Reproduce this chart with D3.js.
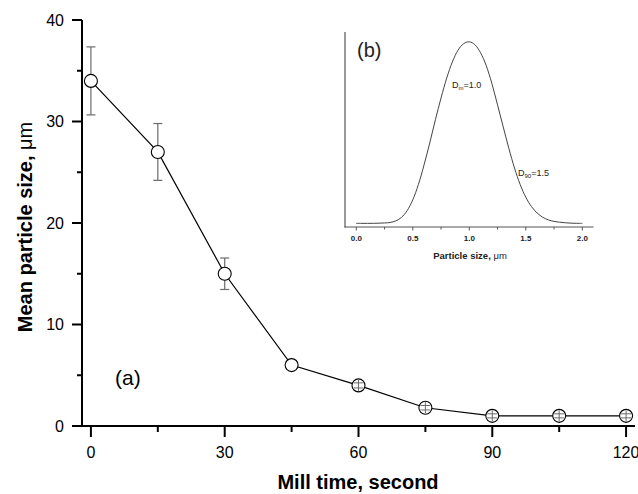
<!DOCTYPE html>
<html><head><meta charset="utf-8">
<script src="https://cdn.jsdelivr.net/npm/d3@7"></script>
<style>
html,body{margin:0;padding:0;background:#fff;}
svg{display:block;font-family:"Liberation Sans",Arial,sans-serif;}
</style></head>
<body>
<svg id="chart" width="638" height="494"></svg>
<script>
// Main chart data
const millTime = [0, 15, 30, 45, 60, 75, 90, 105, 120];
const meanSize = [34.0, 27.0, 15.0, 6.0, 4.0, 1.8, 1.0, 1.0, 1.0];
const sizeErr  = [3.35, 2.8, 1.55, 0.2, 0.25, 0.22, 0.2, 0.2, 0.2];
const xTicks = [0, 30, 60, 90, 120];
const xMinorTicks = [15, 45, 75, 105];
const yTicks = [0, 10, 20, 30, 40];
const yMinorTicks = [5, 15, 25, 35];

// Inset data (particle size distribution)
const psdSize = [0,0.05,0.1,0.15,0.2,0.25,0.3,0.35,0.4,0.45,0.5,0.55,0.6,0.65,0.7,0.75,0.8,0.85,0.9,0.95,1.0,
                 1.05,1.1,1.15,1.2,1.25,1.3,1.35,1.4,1.45,1.5,1.55,1.6,1.65,1.7,1.75,1.8,1.85,1.9,1.95,2.0];
const psdFreq = [0,0,0,0,0.001,0.002,0.004,0.012,0.03,0.066,0.125,0.21,0.32,0.44,0.57,0.69,0.80,0.89,0.955,0.99,1.0,
                 0.985,0.94,0.87,0.77,0.65,0.53,0.41,0.30,0.21,0.14,0.09,0.055,0.032,0.018,0.01,0.006,0.003,0.001,0,0];
const insetTicks = [0.0, 0.5, 1.0, 1.5, 2.0];
const insetMinorTicks = [0.25, 0.75, 1.25, 1.75];

const svg = d3.select("#chart");

// ---------- main chart ----------
const x = d3.scaleLinear().domain([-2, 122]).range([82, 635]);
const y = d3.scaleLinear().domain([0, 40]).range([426, 20]);

const axisColor = "#000";

// x axis
const gx = svg.append("g").attr("transform", "translate(0,426)");
gx.append("line").attr("x1", 72).attr("x2", x.range()[1]).attr("stroke", axisColor).attr("stroke-width", 2);
gx.selectAll(".maj").data(xTicks).join("line")
  .attr("x1", d => x(d)).attr("x2", d => x(d)).attr("y1", 0).attr("y2", 11)
  .attr("stroke", axisColor).attr("stroke-width", 2);
gx.selectAll(".min").data(xMinorTicks).join("line").attr("class","min")
  .attr("x1", d => x(d)).attr("x2", d => x(d)).attr("y1", 0).attr("y2", 6)
  .attr("stroke", axisColor).attr("stroke-width", 2);
gx.selectAll("text").data(xTicks).join("text")
  .attr("x", d => x(d)).attr("y", 32).attr("text-anchor", "middle")
  .attr("font-size", 16).text(d => d);

// y axis
const gy = svg.append("g").attr("transform", "translate(82,0)");
gy.append("line").attr("y1", y(40)).attr("y2", 427).attr("stroke", axisColor).attr("stroke-width", 2);
gy.selectAll(".maj").data(yTicks).join("line")
  .attr("y1", d => y(d)).attr("y2", d => y(d)).attr("x1", -10).attr("x2", 0)
  .attr("stroke", axisColor).attr("stroke-width", 2);
gy.selectAll(".min").data(yMinorTicks).join("line").attr("class","min")
  .attr("y1", d => y(d)).attr("y2", d => y(d)).attr("x1", -5).attr("x2", 0)
  .attr("stroke", axisColor).attr("stroke-width", 2);
gy.selectAll("text").data(yTicks).join("text")
  .attr("x", -18).attr("y", d => y(d)).attr("dy", "0.36em").attr("text-anchor", "end")
  .attr("font-size", 16).text(d => d);

// titles
svg.append("text").attr("x", 358).attr("y", 489).attr("text-anchor", "middle")
  .attr("font-size", 20).attr("font-weight", "bold").text("Mill time, second");
const yt = svg.append("text").attr("transform", "translate(32,227) rotate(-90)").attr("text-anchor", "middle")
  .attr("font-size", 20).attr("font-weight", "bold");
yt.append("tspan").text("Mean particle size, ");
yt.append("tspan").attr("font-weight", "normal").text("\u03bcm");

svg.append("text").attr("x", 115).attr("y", 385).attr("font-size", 21).text("(a)");

// data
const pts = millTime.map((t, i) => ({t, v: meanSize[i], e: sizeErr[i]}));
const R = 6.5;
const errColor = "#6b6b6b";
const capW = 4.5;

const big = pts.filter(d => y(d.v - d.e) - y(d.v) > R);
const small = pts.filter(d => y(d.v - d.e) - y(d.v) <= R);

// error bars for points with large errors (behind circles)
const gErrB = svg.append("g");
big.forEach(d => {
  const cx = x(d.t);
  gErrB.append("line").attr("x1", cx).attr("x2", cx).attr("y1", y(d.v + d.e)).attr("y2", y(d.v - d.e))
    .attr("stroke", errColor).attr("stroke-width", 1.2);
  [d.v + d.e, d.v - d.e].forEach(vv => gErrB.append("line")
    .attr("x1", cx - capW).attr("x2", cx + capW).attr("y1", y(vv)).attr("y2", y(vv))
    .attr("stroke", errColor).attr("stroke-width", 1.2));
});

svg.append("path").datum(pts)
  .attr("d", d3.line().x(d => x(d.t)).y(d => y(d.v)))
  .attr("fill", "none").attr("stroke", "#000").attr("stroke-width", 1.2);

svg.selectAll("circle.pt").data(pts).join("circle").attr("class", "pt")
  .attr("cx", d => x(d.t)).attr("cy", d => y(d.v)).attr("r", R)
  .attr("fill", "#fff").attr("stroke", "#000").attr("stroke-width", 1.1);

// small error bars drawn inside the circles (on top)
const gErrS = svg.append("g");
small.filter(d => d.t >= 60).forEach(d => {
  const cx = x(d.t);
  gErrS.append("line").attr("x1", cx).attr("x2", cx).attr("y1", y(d.v) - R + 1).attr("y2", y(d.v) + R - 1)
    .attr("stroke", errColor).attr("stroke-width", 1);
  [d.v + d.e, d.v - d.e].forEach(vv => gErrS.append("line")
    .attr("x1", cx - 5).attr("x2", cx + 5).attr("y1", y(vv)).attr("y2", y(vv))
    .attr("stroke", errColor).attr("stroke-width", 1));
});

// ---------- inset ----------
const ix = d3.scaleLinear().domain([-0.1, 2.1]).range([345, 593.6]);
const iy = d3.scaleLinear().domain([-0.02, 1.05]).range([227, 32]);
const insetColor = "#555";

const gi = svg.append("g");
gi.append("line").attr("x1", 345).attr("x2", 345).attr("y1", 32).attr("y2", 227.5)
  .attr("stroke", insetColor).attr("stroke-width", 1.2);
gi.append("line").attr("x1", 344.5).attr("x2", 593.6).attr("y1", 227).attr("y2", 227)
  .attr("stroke", insetColor).attr("stroke-width", 1.2);
gi.selectAll(".imaj").data(insetTicks).join("line").attr("class","imaj")
  .attr("x1", d => ix(d)).attr("x2", d => ix(d)).attr("y1", 227).attr("y2", 230.5)
  .attr("stroke", insetColor).attr("stroke-width", 1);
gi.selectAll(".imin").data(insetMinorTicks).join("line").attr("class","imin")
  .attr("x1", d => ix(d)).attr("x2", d => ix(d)).attr("y1", 227).attr("y2", 229.5)
  .attr("stroke", insetColor).attr("stroke-width", 1);
gi.selectAll("text.itk").data(insetTicks).join("text").attr("class","itk")
  .attr("x", d => ix(d)).attr("y", 241).attr("text-anchor", "middle")
  .attr("font-size", 8).attr("font-weight", "bold").attr("fill", "#222").text(d => d.toFixed(1));
const it = gi.append("text").attr("x", 470).attr("y", 259).attr("text-anchor", "middle")
  .attr("font-size", 9.5).attr("font-weight", "bold").attr("fill", "#222");
it.append("tspan").text("Particle size,  ");
it.append("tspan").attr("font-weight", "normal").text("\u03bcm");

gi.append("path").datum(psdSize.map((s, i) => [s, psdFreq[i]]))
  .attr("d", d3.line().x(d => ix(d[0])).y(d => iy(d[1])).curve(d3.curveBasis))
  .attr("fill", "none").attr("stroke", "#444").attr("stroke-width", 1);

gi.append("text").attr("x", 357).attr("y", 57).attr("font-size", 20).attr("fill", "#222").text("(b)");

const dm = gi.append("text").attr("x", 452).attr("y", 88).attr("font-size", 9).attr("fill", "#222");
dm.append("tspan").text("D");
dm.append("tspan").attr("font-size", 6).attr("dy", 2).text("m");
dm.append("tspan").attr("dy", -2).text("=1.0");

const d90 = gi.append("text").attr("x", 518).attr("y", 176).attr("font-size", 9).attr("fill", "#222");
d90.append("tspan").text("D");
d90.append("tspan").attr("font-size", 6).attr("dy", 2).text("90");
d90.append("tspan").attr("dy", -2).text("=1.5");
</script>
</body></html>
